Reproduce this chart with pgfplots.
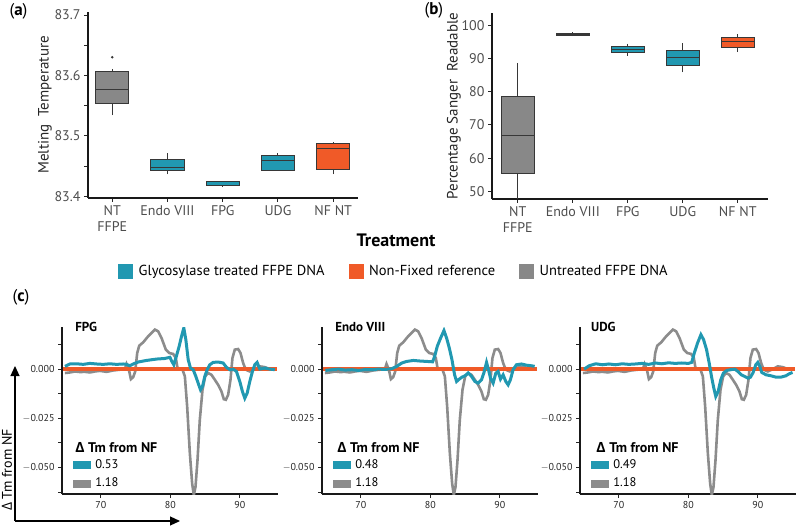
\documentclass[border=0pt]{standalone}
\usepackage{fontspec}
\setmainfont{PT Sans}
\newfontfamily\grk{Open Sans}
\usepackage{pgfplots}
\usepackage{pgfplotstable}
\pgfplotsset{compat=1.18}
\usepgfplotslibrary{statistics}
\usetikzlibrary{arrows.meta}
\definecolor{tealc}{RGB}{33,152,177}
\definecolor{orangec}{RGB}{240,90,40}
\definecolor{grayc}{RGB}{136,136,136}
\definecolor{grayl}{RGB}{140,140,140}
\definecolor{edge}{RGB}{55,55,55}
\definecolor{txt}{RGB}{77,77,77}

\pgfplotstableread{
x y
64.82 -0.0020
65.54 -0.0017
66.26 -0.0012
66.98 -0.0015
67.70 -0.0014
68.42 -0.0017
69.14 -0.0012
69.86 -0.0009
70.82 -0.0014
71.77 -0.0007
72.73 -0.0003
73.45 0.0000
73.69 0.0026
74.03 -0.0003
74.32 -0.0051
74.65 -0.0041
74.94 -0.0012
75.23 0.0082
75.52 0.0119
76.09 0.0136
76.81 0.0167
77.77 0.0201
78.25 0.0192
78.73 0.0158
79.35 0.0099
79.83 0.0082
80.41 0.0077
80.79 0.0056
81.03 0.0005
81.37 0.0000
81.75 -0.0003
82.09 -0.0037
82.42 -0.0190
82.81 -0.0429
83.14 -0.0582
83.38 -0.0641
83.62 -0.0599
83.91 -0.0463
84.24 -0.0259
84.63 -0.0105
85.01 -0.0037
85.44 -0.0020
85.92 -0.0029
86.40 -0.0054
86.88 -0.0080
87.36 -0.0114
87.70 -0.0153
87.99 -0.0156
88.32 -0.0131
88.66 -0.0054
88.94 0.0056
89.28 0.0099
89.76 0.0102
90.10 0.0082
90.48 0.0031
90.86 -0.0003
91.44 -0.0012
92.16 0.0000
92.88 0.0014
93.60 0.0010
94.32 0.0000
95.04 -0.0003
}\untreated

\pgfplotstableread{
x y
64.82 0.0014
65.54 0.0026
66.50 0.0027
67.46 0.0024
68.42 0.0029
69.38 0.0026
70.34 0.0024
71.29 0.0027
72.25 0.0024
73.21 0.0026
73.69 0.0024
74.17 0.0017
74.65 0.0026
75.37 0.0036
76.57 0.0044
78.01 0.0051
79.21 0.0054
79.93 0.0060
80.22 0.0039
80.50 0.0022
80.89 0.0068
81.27 0.0116
81.61 0.0167
81.94 0.0209
82.23 0.0150
82.57 0.0048
82.90 0.0005
83.29 -0.0003
83.67 -0.0037
84.00 -0.0071
84.34 -0.0105
84.63 -0.0088
84.96 -0.0037
85.30 -0.0003
85.68 0.0022
86.16 0.0034
86.88 0.0036
87.60 0.0031
88.08 0.0009
88.56 -0.0003
89.04 0.0000
89.52 -0.0012
90.00 -0.0063
90.38 -0.0114
90.72 -0.0148
91.06 -0.0122
91.44 -0.0063
91.82 -0.0012
92.16 0.0022
92.49 0.0034
92.88 0.0000
93.60 0.0005
94.32 0.0000
95.04 -0.0003
}\fpg

\pgfplotstableread{
x y
64.88 -0.0007
65.84 -0.0003
66.79 0.0000
67.75 -0.0005
68.71 -0.0003
69.67 -0.0007
70.62 -0.0002
71.58 -0.0003
72.54 0.0000
73.49 -0.0002
74.45 0.0002
75.17 0.0014
75.89 0.0031
76.60 0.0039
77.56 0.0044
78.52 0.0041
79.47 0.0039
80.33 0.0037
80.62 0.0065
81.00 0.0116
81.48 0.0158
81.96 0.0196
82.34 0.0158
82.73 0.0107
83.11 0.0048
83.49 -0.0029
83.78 -0.0063
84.16 -0.0051
84.55 -0.0041
84.98 -0.0034
85.45 -0.0020
85.93 -0.0037
86.41 -0.0063
86.89 -0.0071
87.37 -0.0054
87.70 -0.0020
88.09 0.0034
88.37 -0.0003
88.66 -0.0046
89.04 -0.0071
89.43 -0.0020
89.76 -0.0012
90.10 -0.0051
90.48 -0.0029
90.86 -0.0063
91.20 -0.0080
91.53 -0.0054
91.91 -0.0003
92.39 0.0022
93.11 0.0026
93.83 0.0020
94.55 0.0017
95.02 0.0014
}\endo

\pgfplotstableread{
x y
65.00 0.0000
65.71 0.0017
66.67 0.0027
67.62 0.0022
68.57 0.0026
69.52 0.0022
70.48 0.0027
71.43 0.0024
72.38 0.0026
73.33 0.0029
74.29 0.0024
75.24 0.0031
76.19 0.0027
77.14 0.0032
78.10 0.0029
79.05 0.0031
80.00 0.0029
80.48 0.0034
80.86 0.0082
81.33 0.0133
81.81 0.0175
82.19 0.0150
82.62 0.0099
83.00 0.0031
83.33 -0.0037
83.67 -0.0097
83.95 -0.0139
84.29 -0.0114
84.67 -0.0054
85.05 -0.0020
85.52 -0.0007
86.10 -0.0003
86.67 0.0000
87.14 -0.0012
87.62 -0.0029
88.10 -0.0037
88.57 -0.0046
88.95 -0.0041
89.33 -0.0017
89.71 0.0022
90.00 0.0034
90.29 0.0014
90.57 -0.0017
91.19 -0.0029
91.90 -0.0034
92.62 -0.0041
93.33 -0.0041
94.05 -0.0034
94.52 -0.0024
95.00 -0.0017
}\udg

\pgfplotstableread{
x y
64.6 0
95.3 0
}\nfref

\tikzset{
  ctitle/.style={anchor=west, font=\bfseries\fontsize{13}{15}\selectfont},
  ltitle/.style={anchor=west, font=\bfseries\fontsize{14}{16}\selectfont},
}

\pgfplotsset{
  gg/.style={
    scale only axis,
    anchor=south west,
    axis lines=left,
    axis line style={-, line width=1.3pt, black!90},
    tick style={line width=0.9pt, black!85},
    major tick length=4pt, minor tick length=4pt,
    tick align=outside,
    /pgf/number format/assume math mode=true,
    tick label style={font=\fontsize{14}{16}\selectfont, text=txt},
    label style={font=\fontsize{15}{17}\selectfont, text=black!85},
  },
  bx/.style={boxplot/draw direction=y, boxplot/box extend=0.6, boxplot/whisker extend=0,
    line width=1pt, draw=edge, solid},
  cc/.style={gg, width=216pt, height=167pt,
    clip mode=individual,
    xmin=64.4, xmax=95.5, ymin=-0.0635, ymax=0.0214,
    xtick={70,80,90}, ytick={-0.05,-0.025,0},
    yticklabels={$-$0.050,$-$0.025,0.000},
    minor ytick={-0.0625,-0.0375,-0.0125,0.0125},
    scaled y ticks=false,
    tick label style={font=\fontsize{10}{12}\selectfont, text=black!85},
    legend style={draw=none, fill=none, font=\fontsize{12.5}{14}\selectfont,
      inner sep=0pt, row sep=4pt, anchor=south west,
      /tikz/every odd column/.append style={column sep=3pt}},
    legend cell align=left,
    legend image code/.code={\fill[##1] (0pt,-3.5pt) rectangle (17pt,3.5pt);},
  },
}

\begin{document}
\begin{tikzpicture}[x=1pt,y=1pt]
\useasboundingbox (0,0) rectangle (798,528);

% ---------- panel (a) ----------
\begin{axis}[gg, at={(88pt,330pt)}, width=270pt, height=186pt,
  xmin=-0.44, xmax=4.45, ymin=83.397, ymax=83.705,
  xtick={0,1,2,3,4}, xticklabels={{NT\\FFPE},Endo VIII,FPG,UDG,NF NT},
  xticklabel style={align=center},
  ytick={83.4,83.5,83.6,83.7}, minor ytick={83.45,83.55,83.65},
  yticklabel style={/pgf/number format/.cd,fixed,fixed zerofill,precision=1},
  ylabel={Melting\ \ Temperature},
  ylabel style={xshift=0pt, yshift=-4pt},
]
\addplot[bx, fill=grayc, mark=*, mark size=0.7pt, mark options={fill=edge,draw=edge},
  boxplot prepared={draw position=0, lower whisker=83.534, lower quartile=83.554,
  median=83.577, upper quartile=83.607, upper whisker=83.611}] coordinates {(0,83.630)};
\addplot[bx, fill=tealc, boxplot prepared={draw position=1, lower whisker=83.436,
  lower quartile=83.443, median=83.447, upper quartile=83.461, upper whisker=83.471}] coordinates {};
\addplot[bx, fill=tealc, boxplot prepared={draw position=2, lower whisker=83.415,
  lower quartile=83.418, median=83.4235, upper quartile=83.425, upper whisker=83.425}] coordinates {};
\addplot[bx, fill=tealc, boxplot prepared={draw position=3, lower whisker=83.442,
  lower quartile=83.442, median=83.459, upper quartile=83.467, upper whisker=83.471}] coordinates {};
\addplot[bx, fill=orangec, boxplot prepared={draw position=4, lower whisker=83.436,
  lower quartile=83.445, median=83.479, upper quartile=83.487, upper whisker=83.490}] coordinates {};
\end{axis}

% ---------- panel (b) ----------
\begin{axis}[gg, at={(492pt,329pt)}, width=276pt, height=186pt,
  xmin=-0.47, xmax=4.55, ymin=47.7, ymax=103.7,
  xtick={0,1,2,3,4}, xticklabels={{NT\\FFPE},Endo VIII,FPG,UDG,NF NT},
  xticklabel style={align=center},
  ytick={50,60,70,80,90,100},
  ylabel={Percentage Sanger\ \ Readable},
  ylabel style={yshift=-6pt},
]
\addplot[bx, fill=grayc, boxplot prepared={draw position=0, lower whisker=44,
  lower quartile=55.3, median=66.9, upper quartile=78.5, upper whisker=88.7}] coordinates {};
\addplot[bx, fill=tealc, boxplot prepared={draw position=1, lower whisker=96.7,
  lower quartile=97.0, median=97.3, upper quartile=97.6, upper whisker=97.9}] coordinates {};
\addplot[bx, fill=tealc, boxplot prepared={draw position=2, lower whisker=90.8,
  lower quartile=91.7, median=92.8, upper quartile=93.7, upper whisker=94.5}] coordinates {};
\addplot[bx, fill=tealc, boxplot prepared={draw position=3, lower whisker=85.8,
  lower quartile=88.0, median=90.4, upper quartile=92.4, upper whisker=94.6}] coordinates {};
\addplot[bx, fill=orangec, boxplot prepared={draw position=4, lower whisker=91.9,
  lower quartile=93.4, median=95.2, upper quartile=96.3, upper whisker=97.3}] coordinates {};
\end{axis}

\node[font=\fontsize{17}{19}\selectfont, anchor=north west] at (6,528) {(\textbf{a})};
\node[font=\fontsize{17}{19}\selectfont, anchor=north west] at (421,529) {(\textbf{b})};
\node[font=\fontsize{17}{19}\selectfont, anchor=west] at (9,231) {(\textbf{c})};
\node[font=\bfseries\fontsize{18}{20}\selectfont] at (396,288) {Treatment};

% ---------- shared legend ----------
\begin{axis}[hide axis, scale only axis, at={(394pt,257pt)}, anchor=center,
  width=10pt, height=10pt, xmin=0, xmax=1, ymin=0, ymax=1,
  legend columns=3,
  legend style={at={(0.5,0.5)}, anchor=center, draw=none, fill=none,
    font=\fontsize{14.5}{16}\selectfont, inner sep=0pt,
    /tikz/every odd column/.append style={column sep=4pt},
    /tikz/every even column/.append style={column sep=22pt}},
  legend image code/.code={\fill[#1] (0pt,-7pt) rectangle (14pt,7pt);},
]
\addplot[draw=none, forget plot] coordinates {(0,0)};
\addlegendimage{color=tealc}
\addlegendentry{Glycosylase treated FFPE DNA}
\addlegendimage{color=orangec}
\addlegendentry{Non-Fixed reference}
\addlegendimage{color=grayc}
\addlegendentry{Untreated FFPE DNA}
\end{axis}

% ---------- panel (c) ----------
\begin{axis}[cc, at={(62pt,34pt)}, legend style={at={(0.05,0.02)}}]
\addplot[color=grayl, line width=2.6pt, forget plot] table[x=x,y=y] {\untreated};
\addplot[color=orangec, line width=3.8pt, forget plot] table[x=x,y=y] {\nfref};
\addplot[color=tealc, line width=3pt, forget plot] table[x=x,y=y] {\fpg};
\addlegendimage{color=tealc}\addlegendentry{0.53}
\addlegendimage{color=grayl}\addlegendentry{1.18}
\node[ctitle] at (rel axis cs:0.045,1.0) {FPG};
\node[ltitle] at (rel axis cs:0.045,0.28) {{\grk Δ} Tm from NF};
\end{axis}

\begin{axis}[cc, at={(322pt,34pt)}, legend style={at={(0.05,0.02)}}]
\addplot[color=grayl, line width=2.6pt, forget plot] table[x=x,y=y] {\untreated};
\addplot[color=orangec, line width=3.8pt, forget plot] table[x=x,y=y] {\nfref};
\addplot[color=tealc, line width=3pt, forget plot] table[x=x,y=y] {\endo};
\addlegendimage{color=tealc}\addlegendentry{0.48}
\addlegendimage{color=grayl}\addlegendentry{1.18}
\node[ctitle] at (rel axis cs:0.045,1.0) {Endo VIII};
\node[ltitle] at (rel axis cs:0.055,0.28) {{\grk Δ} Tm from NF};
\end{axis}

\begin{axis}[cc, at={(580pt,34pt)}, legend style={at={(0.05,0.02)}}]
\addplot[color=grayl, line width=2.6pt, forget plot] table[x=x,y=y] {\untreated};
\addplot[color=orangec, line width=3.8pt, forget plot] table[x=x,y=y] {\nfref};
\addplot[color=tealc, line width=3pt, forget plot] table[x=x,y=y] {\udg};
\addlegendimage{color=tealc}\addlegendentry{0.49}
\addlegendimage{color=grayl}\addlegendentry{1.18}
\node[ctitle] at (rel axis cs:0.035,1.0) {UDG};
\node[ltitle] at (rel axis cs:0.06,0.28) {{\grk Δ} Tm from NF};
\end{axis}

% y label and arrows for (c)
\node[rotate=90, font=\fontsize{14}{16}\selectfont] at (7,58) {{\grk Δ} Tm from NF};
\draw[line width=1.2pt, -{Triangle[length=10pt,width=9pt]}] (15,7) -- (15,162);
\draw[line width=1.2pt, -{Triangle[length=10pt,width=9pt]}] (15,7) -- (180,7);
\end{tikzpicture}
\end{document}
